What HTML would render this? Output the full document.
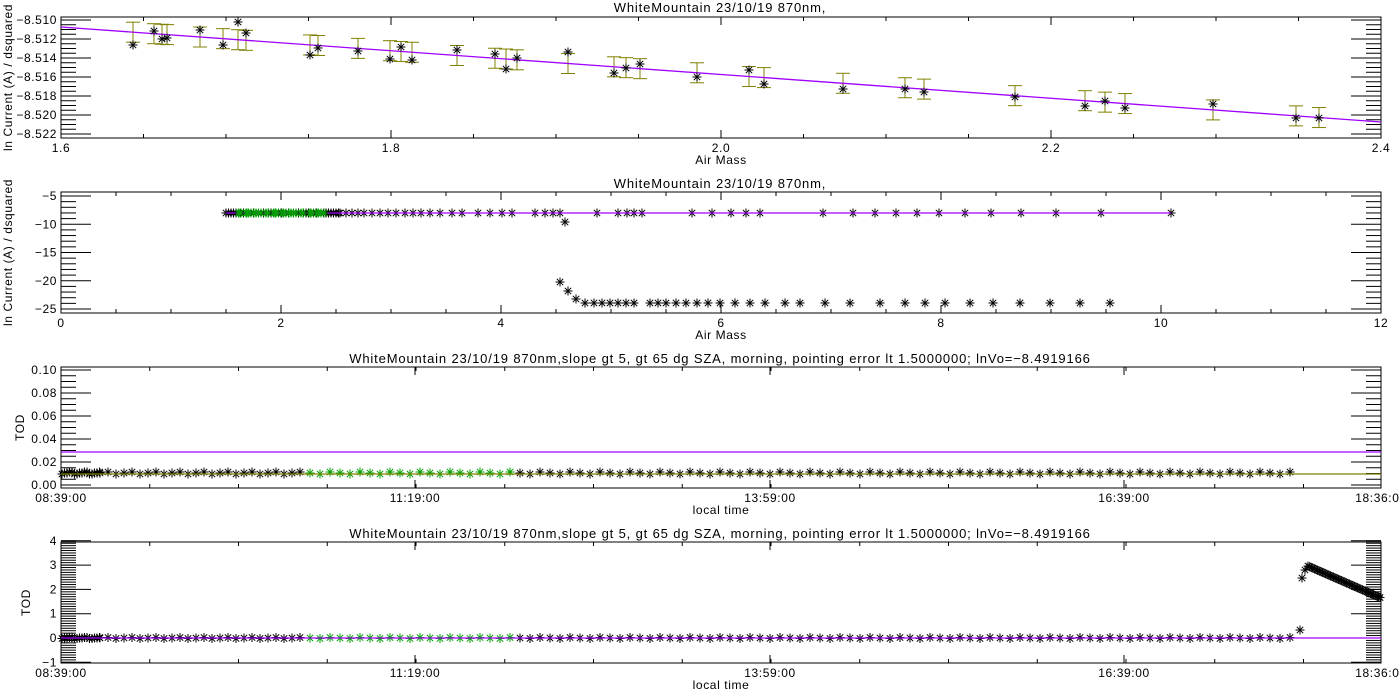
<!DOCTYPE html>
<html><head><meta charset="utf-8">
<style>html,body{margin:0;padding:0;background:#fff;}svg{display:block;}
text{font-family:"Liberation Sans",sans-serif;font-size:12px;letter-spacing:0.6px;fill:#000;}
text.t{font-size:13px;letter-spacing:0.85px;}</style></head>
<body>
<svg id="s" width="1400" height="700" xmlns="http://www.w3.org/2000/svg"></svg>
<script>
const s=document.getElementById('s');let h='';
function L(x1,y1,x2,y2,c,w){h+=`<line x1="${x1}" y1="${y1}" x2="${x2}" y2="${y2}" stroke="${c||'#000'}" stroke-width="${w||1}"/>`;}
function T(x,y,t,a,r,cl){h+=`<text${cl?' class="t"':''} x="${x}" y="${y}" text-anchor="${a||'middle'}"${r?` transform="rotate(-90 ${x} ${y})"`:''}>${t}</text>`;}
function A(x,y,c){c=c||'#000';const d=4.5,e=3.2;L(x-d,y,x+d,y,c);L(x,y-d,x,y+d,c);L(x-e,y-e,x+e,y+e,c);L(x-e,y+e,x+e,y-e,c);}
function box(x0,y0,x1,y1){h+=`<rect x="${x0}" y="${y0}" width="${x1-x0}" height="${y1-y0}" fill="none" stroke="#000"/>`;}
const X0=61,X1=1381;
function xt(y0,y1,vals,minors,lab){for(const v of vals){L(v[0],y1,v[0],y1-8);L(v[0],y0,v[0],y0+8);T(v[0],y1+14,v[1]);}
 for(const m of minors){L(m,y1,m,y1-4);L(m,y0,m,y0+4);} T((X0+X1)/2,y1+26,lab);}
function yt(y0,y1,vals,minors,lab,lx){for(const v of vals){L(X0,v[0],X0+30,v[0]);L(X1,v[0],X1-30,v[0]);T(X0-4,v[0]+4,v[1],'end');}
 for(const m of minors){L(X0,m,X0+15,m);L(X1,m,X1-15,m);} T(lx,(y0+y1)/2,lab,'middle',true);}
{const y0=17,y1=138;box(X0,y0,X1,y1);
T(720,12,'WhiteMountain 23/10/19 870nm,',0,0,1);
const xv=[],xm=[];for(let i=0;i<=4;i++){xv.push([X0+i*330,(1.6+0.2*i).toFixed(1)]);}
for(let i=0;i<=16;i++)xm.push(X0+i*82.5);xt(y0,y1,xv,xm,'Air Mass');
const yv=[],ym=[];for(let i=0;i<7;i++){const y=20+i*19;yv.push([y,(-8.510-0.002*i).toFixed(3).replace('-','−')]);}
for(let y=20;y<138;y+=4.75)ym.push(y);yt(y0,y1,yv,ym,'ln Current (A) / dsquared',12);
const fy=x=>27+(x-61)*(95/1320);
const p=[[133,45],[154,31],[162,39],[167,38],[200,30],[223,45],[238,22],[246,33],[310,55],[318,48],[358,51],[390,59],[401,47],[412,60],[457,50],[495,54],[506,69],[517,58],[568,52],[614,73],[626,68],[640,64],[697,77],[749,70],[764,84],[843,89],[905,89],[924,92],[1015,97],[1085,106],[1105,101],[1125,108],[1213,104],[1296,118],[1319,118]];
for(const q of p){const c=fy(q[0]),hh=10;L(q[0],c-hh,q[0],c+hh,'#808000');L(q[0]-7,c-hh,q[0]+7,c-hh,'#808000');L(q[0]-7,c+hh,q[0]+7,c+hh,'#808000');}
L(X0,27,X1,122,'#a000ff',1.3);
for(const q of p)A(q[0],q[1]);}
{const y0=192,y1=313;box(X0,y0,X1,y1);
T(720,188,'WhiteMountain 23/10/19 870nm,',0,0,1);
const xv=[],xm=[];for(let i=0;i<=6;i++)xv.push([X0+i*220,String(2*i)]);
for(let i=0;i<=24;i++)xm.push(X0+i*55);xt(y0,y1,xv,xm,'Air Mass');
const Y=v=>196+(-5-v)*5.65;const yv=[],ym=[];for(let v=-5;v>=-25;v-=5)yv.push([Y(v),String(v).replace('-','−')]);
for(let v=-6;v>-25.7;v-=1)if(v%5)ym.push(Y(v));
yt(y0,y1,yv,ym,'ln Current (A) / dsquared',12);
for(let x=226;x<340;x+=2.5)A(x,213,(x>236&&x<325&&(Math.floor(x/3)%3))?'#00a000':'#000');
const ux=[340,346,352,358,364,372,380,388,396,405,413,421,430,440,452,462,478,490,502,512,535,545,553,560,597,618,627,634,642,692,712,731,746,760,823,853,875,896,917,939,965,991,1021,1056,1101,1171];
for(const x of ux)A(x,213);A(565,222);
L(226,213,1171,213,'#a000ff',1.2);
for(let x=240;x<330;x+=7)A(x,213,'#00a000');
A(560,282);A(568,291);A(576,299);
for(const x of [585,594,602,610,618,626,634,650,658,666,676,686,697,708,720,735,750,765,785,800,825,850,880,905,925,945,970,993,1020,1050,1080,1110])A(x,303);}
const tv=[[61,'08:39:00'],[415,'11:19:00'],[770,'13:59:00'],[1124,'16:39:00'],[1381,'18:36:00']];
const tm=[];for(let x=61;x<=1381;x+=88.75)tm.push(x);
const title='WhiteMountain 23/10/19 870nm,slope gt 5, gt 65 dg SZA, morning, pointing error lt 1.5000000; lnVo=−8.4919166';
function series(y,jit){const out=[];for(let x=62;x<100;x+=2.5)out.push(x);for(let x=100;x<1292;x+=(x<300?8:10))out.push(x);
 for(const x of out){const g=x>300&&x<512&&!(x>470&&x<480);A(x,y+((Math.floor(x*7)%3)-1)*jit,g?'#00a000':'#000');}}
{const y0=367,y1=488;box(X0,y0,X1,y1);T(720,363,title,0,0,1);
xt(y0,y1,tv,tm,'local time');
const Y=v=>485-v*1150;const yv=[],ym=[];for(let i=0;i<=5;i++)yv.push([Y(i*0.02),(i*0.02).toFixed(2)]);
for(let v=0.005;v<0.1;v+=0.005)if(Math.round(v*1000)%20)ym.push(Y(v));
yt(y0,y1,yv,ym,'TOD',24);
L(X0,452,X1,452,'#a000ff',1.3);series(473,1);L(X0,474,X1,474,'#808000',1.2);}
{const y0=542,y1=663;box(X0,y0,X1,y1);T(720,538,title,0,0,1);
xt(y0,y1,tv,tm,'local time');
const Y=v=>638-v*24.3;const yv=[],ym=[];for(let v=-1;v<=4;v++)yv.push([Y(v),String(v).replace('-','−')]);
for(let v=-1;v<=4.1;v+=0.1)ym.push(Y(v));
yt(y0,y1,yv,ym,'TOD',30);
series(638,0.5);A(1300,630);A(1302,578);A(1305,570);
for(let x=1308;x<1381;x+=1.6){const y=566+(x-1308)*(32/73);A(x,y);}
L(X0,638,X1,638,'#a000ff',1.3);}
s.innerHTML=h;
</script>
</body></html>
